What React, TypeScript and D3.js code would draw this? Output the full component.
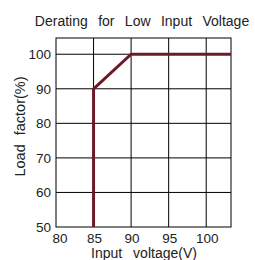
import React from "react";
import * as d3 from "d3";

const voltage = [85, 85, 90, 103.3];
const loadFactor = [50, 90, 100, 100];
const xTicks = [80, 85, 90, 95, 100];
const yTicks = [50, 60, 70, 80, 90, 100];
const title = "Derating for Low Input Voltage";
const xTitle = "Input voltage(V)";
const yTitle = "Load factor(%)";

export default function App() {
  const W = 255, H = 260;
  const left = 56, right = 231, top = 38, bottom = 227;
  const x = d3.scaleLinear().domain([80, 103.3]).range([left, right]);
  const y = d3.scaleLinear().domain([50, 104.7]).range([bottom, top]);
  const pts = voltage.map((v, i) => [v, loadFactor[i]] as [number, number]);
  const line = d3.line<[number, number]>().x(d => x(d[0])).y(d => y(d[1]));
  const font = "Liberation Sans, Arial, sans-serif";
  return (
    <svg width={W} height={H} style={{ position: "absolute", left: 0, top: 0 }} fontFamily={font}>
      <rect width={W} height={H} fill="#fff" />
      {xTicks.slice(1).map(t => (
        <line key={"vx" + t} x1={x(t)} x2={x(t)} y1={top} y2={bottom} stroke="#000" strokeWidth={1} />
      ))}
      {yTicks.slice(1).map(t => (
        <line key={"hy" + t} x1={left} x2={right} y1={y(t)} y2={y(t)} stroke="#000" strokeWidth={1} />
      ))}
      <rect x={left} y={top} width={right - left} height={bottom - top} fill="none" stroke="#000" strokeWidth={1} />
      <path d={line(pts) || ""} fill="none" stroke="#6b1a28" strokeWidth={3} />
      {yTicks.map(t => (
        <text key={"yl" + t} x={51} y={y(t) + 4.8} textAnchor="end" fontSize={13.5} fill="#222">{t}</text>
      ))}
      {xTicks.map(t => (
        <text key={"xl" + t} x={x(t) + (t === 80 ? 4 : 1)} y={243} textAnchor="middle" fontSize={13.5} fill="#222">{t}</text>
      ))}
      <text x={142} y={25.7} textAnchor="middle" fontSize={14} fill="#222" wordSpacing={6.5}>{title}</text>
      <text x={144} y={257.5} textAnchor="middle" fontSize={14} fill="#222" wordSpacing={7}>{xTitle}</text>
      <text transform={`translate(25,126.5) rotate(-90)`} textAnchor="middle" fontSize={14.5} fill="#222" wordSpacing={5}>{yTitle}</text>
    </svg>
  );
}
